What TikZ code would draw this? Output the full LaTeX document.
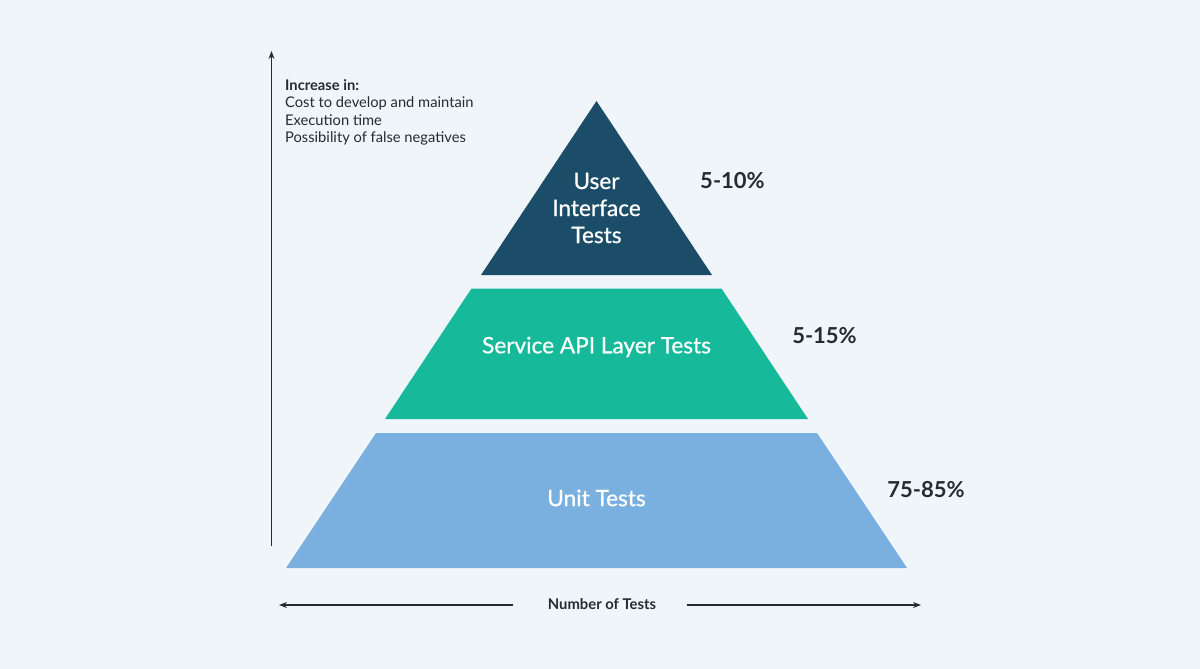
\documentclass[tikz,border=0pt]{standalone}
\usepackage{fontspec}
\setmainfont{Lato}
\newfontfamily\medlato[FakeBold=0.7]{Lato}
\usetikzlibrary{arrows.meta}
\definecolor{bg}{HTML}{F0F5FA}
\definecolor{uiblue}{HTML}{1B4D69}
\definecolor{apigreen}{HTML}{16BA9A}
\definecolor{unitblue}{HTML}{7AB0DF}
\definecolor{ink}{HTML}{262A31}
\begin{document}
\begin{tikzpicture}[x=1pt,y=-1pt,
  tier/.style={white,font=\fontsize{22.6}{27}\medlato,align=center},
  share/.style={ink,font=\fontsize{22}{26}\selectfont\bfseries},
  note/.style={ink,font=\fontsize{14.7}{17.5}\selectfont,align=left,anchor=north west,inner sep=0pt},
  axis/.style={ink,line width=1.2pt,-{Stealth[length=8pt,width=6pt]}}]
  \useasboundingbox (0,0) rectangle (1200,669);
  \fill[bg] (0,0) rectangle (1200,669);

  % pyramid tiers
  \fill[uiblue] (596.5,101) -- (712,275) -- (481,275) -- cycle;
  \fill[apigreen] (471.5,288.5) -- (721.5,288.5) -- (808,419) -- (385,419) -- cycle;
  \fill[unitblue] (376,433) -- (817,433) -- (907,568) -- (286,568) -- cycle;

  \node[tier] (ui) at (596.5,208) {User\\Interface\\Tests};
  \node[tier] (api) at (596.5,347) {Service API Layer Tests};
  \node[tier] (unit) at (596.5,498) {Unit Tests};

  \node[share] (p1) at (732.5,181) {5-10\%};
  \node[share] (p2) at (824.5,336) {5-15\%};
  \node[share] (p3) at (926,490) {75-85\%};

  % vertical axis with annotation
  \coordinate (vbot) at (271.5,546);
  \coordinate (vtop) at (271.5,51);
  \draw[axis] (vbot) -- (vtop);
  \node[note] (inc) at (285,79) {\textbf{Increase in:}\\Cost to develop and maintain\\Execution time\\Possibility of false negatives};

  % horizontal axis
  \node[ink,font=\fontsize{14.8}{17}\selectfont\bfseries] (num) at (602,604) {Number of Tests};
  \coordinate (hl) at (279,605);
  \coordinate (hr) at (921,605);
  \draw[axis] (num.west) ++(-31,1) -- (hl);
  \draw[axis] (num.east) ++(27,1) -- (hr);
\end{tikzpicture}
\end{document}
